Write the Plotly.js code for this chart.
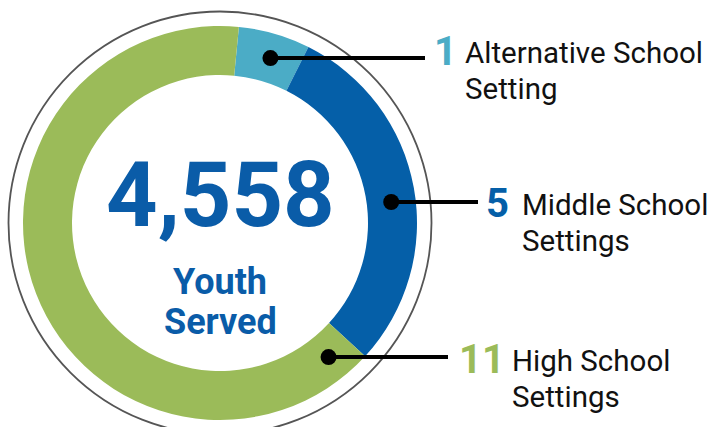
<!DOCTYPE html>
<html>
<head>
<meta charset="utf-8">
<script src="https://cdn.plot.ly/plotly-3.0.1.min.js"></script>
<style>html,body{margin:0;padding:0;background:#fff;}#chart{width:711px;height:427px;}</style>
</head>
<body>
<div id="chart"></div>
<script>
// ---- data ----
const categories = ["Alternative School Setting", "Middle School Settings", "High School Settings"];
const counts = [1, 5, 11];
const labelLine1 = ["Alternative School", "Middle School", "High School"];
const labelLine2 = ["Setting", "Settings", "Settings"];
const centerValue = "4,558";
const centerLabel = ["Youth", "Served"];

// ---- style ----
const colors = ["#4BACC6", "#055FA8", "#9BBB59"];
const W = 711, H = 427;
const cx = 220, cy = 223, R = 197, r = 148, ringR = 211.5;
const rotation = 5.5;
const calloutAngles = [17, 83, 141];      // where the leader dots sit on the ring
const lineEndX = [425, 478, 448];
const numX = [432, 484, 457];
const textX = [463, 520, 510];
const base1 = [65, 216, 372];
const lineGap = 36;
const px = x => x / W;
const py = y => 1 - y / H;

const trace = {
  type: "pie",
  values: counts,
  labels: categories,
  sort: false,
  direction: "clockwise",
  rotation: rotation,
  hole: r / R,
  marker: {colors: colors, line: {width: 0}},
  textinfo: "none",
  hoverinfo: "none",
  showlegend: false,
  domain: {x: [px(cx - R), px(cx + R)], y: [py(cy + R), py(cy - R)]}
};

const shapes = [{
  type: "circle", xref: "paper", yref: "paper",
  x0: px(cx - ringR), x1: px(cx + ringR), y0: py(cy + ringR), y1: py(cy - ringR),
  line: {color: "#555555", width: 1.8}
}];
const annotations = [];
const midR = (R + r) / 2;
categories.forEach((c, i) => {
  const a = calloutAngles[i] * Math.PI / 180;
  const dx = cx + midR * Math.sin(a), dy = cy - midR * Math.cos(a);
  shapes.push({type: "line", xref: "paper", yref: "paper",
    x0: px(dx), x1: px(lineEndX[i]), y0: py(dy), y1: py(dy),
    line: {color: "#000", width: 4}});
  shapes.push({type: "circle", xref: "paper", yref: "paper",
    x0: px(dx - 8), x1: px(dx + 8), y0: py(dy + 8), y1: py(dy - 8),
    fillcolor: "#000", line: {width: 0}});
  annotations.push({xref: "paper", yref: "paper", x: px(numX[i]), y: py(base1[i] + 12.5),
    xanchor: "left", yanchor: "bottom", showarrow: false, text: String(counts[i]),
    font: {family: "Roboto", size: 40, weight: "bold", color: colors[i]}});
  annotations.push({xref: "paper", yref: "paper", x: px(textX[i]), y: py(base1[i] + 7.5),
    xanchor: "left", yanchor: "bottom", showarrow: false, text: labelLine1[i],
    font: {family: "Roboto", size: 29.5, color: "#111"}});
  annotations.push({xref: "paper", yref: "paper", x: px(textX[i]), y: py(base1[i] + lineGap + 7.5),
    xanchor: "left", yanchor: "bottom", showarrow: false, text: labelLine2[i],
    font: {family: "Roboto", size: 29.5, color: "#111"}});
});
annotations.push({xref: "paper", yref: "paper", x: px(cx), y: py(230 + 20),
  xanchor: "center", yanchor: "bottom", showarrow: false, text: centerValue,
  font: {family: "Roboto", size: 90, weight: "bold", color: "#0A5CA8"}});
annotations.push({xref: "paper", yref: "paper", x: px(cx), y: py(296 + 9),
  xanchor: "center", yanchor: "bottom", showarrow: false, text: centerLabel[0],
  font: {family: "Roboto", size: 36, weight: "bold", color: "#0A5CA8"}});
annotations.push({xref: "paper", yref: "paper", x: px(cx), y: py(336 + 9),
  xanchor: "center", yanchor: "bottom", showarrow: false, text: centerLabel[1],
  font: {family: "Roboto", size: 36, weight: "bold", color: "#0A5CA8"}});

const layout = {
  width: W, height: H,
  margin: {l: 0, r: 0, t: 0, b: 0},
  paper_bgcolor: "#fff",
  shapes: shapes,
  annotations: annotations
};
Plotly.newPlot("chart", [trace], layout, {displayModeBar: false, staticPlot: true});
</script>
</body>
</html>
